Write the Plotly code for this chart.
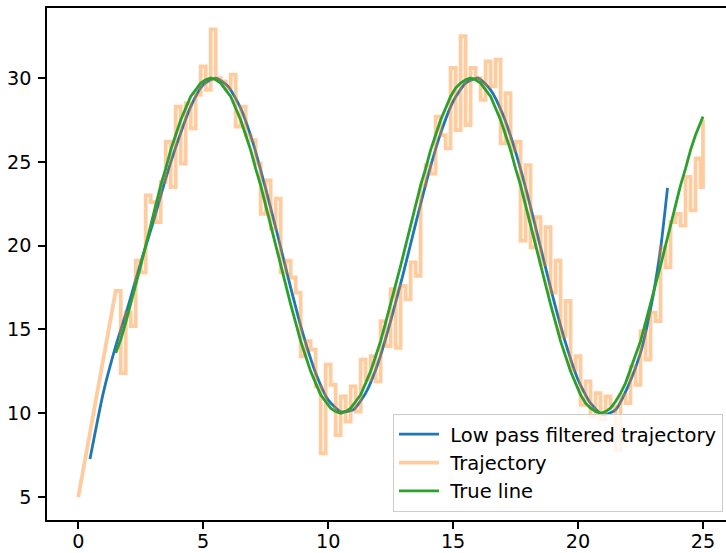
import numpy as np
import plotly.graph_objects as go

# ---------------- data ----------------
# sampling times of the measured trajectory (1.5 .. 24.9, step 0.2)
t_grid = np.round(np.arange(1.5, 24.95, 0.2), 1)

traj_start_x, traj_start_y = 0.0, 5.0
traj_end_x, traj_end_y = 25.0, 27.5
traj_y = [
    17.3, 12.4, 16.0, 15.2, 19.1, 18.4, 23.0, 22.6, 21.4, 23.8,
    26.2, 23.5, 28.3, 24.9, 28.5, 27.0, 29.0, 30.7, 29.3, 32.9,
    30.0, 29.8, 29.4, 30.2, 27.1, 28.3, 26.6, 26.3, 24.9, 21.9,
    23.9, 21.0, 22.8, 18.4, 19.1, 18.1, 17.2, 13.4, 14.3, 13.8,
    11.6, 7.6, 12.9, 11.7, 8.7, 11.0, 9.5, 11.6, 10.1, 13.2,
    12.0, 13.4, 11.9, 15.5, 14.0, 17.4, 13.9, 17.6, 16.8, 19.0,
    18.2, 23.6, 24.8, 24.3, 27.7, 26.6, 25.8, 30.6, 26.9, 32.5,
    27.2, 30.6, 30.0, 28.7, 31.0, 29.5, 31.1, 26.1, 29.1, 25.7,
    26.2, 20.3, 24.8, 19.9, 21.7, 18.9, 21.1, 17.2, 19.1, 14.6,
    16.7, 12.6, 13.4, 10.5, 11.9, 9.8, 11.2, 9.6, 11.0, 10.4,
    7.8, 11.1, 10.6, 12.8, 11.7, 14.9, 13.2, 16.0, 15.5, 19.9,
    18.7, 21.4, 21.9, 21.2, 24.1, 22.1, 25.2, 23.5,
]

true_y = [
    13.6, 14.4, 15.4, 16.5, 17.6, 18.8, 20.0, 21.2, 22.4, 23.6,
    24.6, 25.7, 26.6, 27.5, 28.2, 28.9, 29.3, 29.7, 29.9, 30.0,
    29.9, 29.7, 29.3, 28.9, 28.2, 27.5, 26.6, 25.7, 24.6, 23.6,
    22.4, 21.2, 20.0, 18.8, 17.6, 16.5, 15.4, 14.3, 13.4, 12.5,
    11.8, 11.1, 10.7, 10.3, 10.1, 10.0, 10.1, 10.3, 10.7, 11.1,
    11.8, 12.5, 13.4, 14.3, 15.4, 16.5, 17.6, 18.8, 20.0, 21.2,
    22.4, 23.6, 24.6, 25.7, 26.6, 27.5, 28.2, 28.9, 29.4, 29.7,
    29.9, 30.0, 29.9, 29.7, 29.3, 28.9, 28.2, 27.5, 26.6, 25.7,
    24.6, 23.6, 22.4, 21.2, 20.0, 18.8, 17.6, 16.5, 15.4, 14.3,
    13.4, 12.5, 11.8, 11.1, 10.6, 10.3, 10.1, 10.0, 10.1, 10.3,
    10.7, 11.2, 11.8, 12.6, 13.4, 14.3, 15.4, 16.5, 17.7, 18.8,
    20.0, 21.2, 22.4, 23.6, 24.6, 25.7, 26.6, 27.4,
]
true_end_x, true_end_y = 25.0, 27.7

lp_x = [0.47, 1.0, 1.5, 2.0, 2.5, 3.0, 3.5, 4.0, 4.5, 5.0, 5.5, 6.0, 6.5,
        7.0, 7.5, 8.0, 8.5, 9.0, 9.5, 10.0, 10.5, 11.0, 11.5, 12.0, 12.5,
        13.0, 13.5, 14.0, 14.5, 15.0, 15.5, 16.0, 16.5, 17.0, 17.5, 18.0,
        18.5, 19.0, 19.5, 20.0, 20.5, 21.0, 21.5, 22.0, 22.5, 22.9, 23.3,
        23.58]
lp_y = [7.27, 11.2, 14.0, 16.4, 19.0, 21.4, 24.0, 26.3, 28.3, 29.6, 30.0,
        29.5, 28.2, 26.1, 23.4, 20.5, 17.5, 14.7, 12.4, 10.8, 10.1, 10.2,
        11.2, 13.0, 15.5, 18.3, 21.3, 24.2, 26.7, 28.6, 29.7, 30.0, 29.3,
        27.8, 25.6, 22.9, 19.9, 16.9, 14.2, 12.0, 10.6, 9.9, 10.2, 11.6,
        13.6, 16.2, 19.8, 23.45]

series_names = ["Low pass filtered trajectory", "Trajectory", "True line"]
x_ticks = [0, 5, 10, 15, 20, 25]
y_ticks = [5, 10, 15, 20, 25, 30]

# ---------------- build trajectory polyline (held samples) ----------------
tx = [traj_start_x]
ty = [traj_start_y]
n = len(traj_y)
for i in range(n):
    x0 = float(t_grid[i])
    x1 = float(t_grid[i + 1]) if i + 1 < n else traj_end_x
    tx += [x0, x1]
    ty += [traj_y[i], traj_y[i]]
tx.append(traj_end_x)
ty.append(traj_end_y)

green_x = [float(v) for v in t_grid[:len(true_y)]] + [true_end_x]
green_y = list(true_y) + [true_end_y]

FONT = "DejaVu Sans"
FS = 19.2
PAD = "\u00a0"

fig = go.Figure()
fig.add_trace(go.Scatter(x=lp_x, y=lp_y, mode="lines", name=PAD + series_names[0],
                         line=dict(color="#1f77b4", width=2.8, shape="spline", smoothing=0.6),
                         legendgroup="a"))
fig.add_trace(go.Scatter(x=tx, y=ty, mode="lines", name=PAD + series_names[1],
                         line=dict(color="rgba(255,127,14,0.4)", width=3.8),
                         legendgroup="b"))
fig.add_trace(go.Scatter(x=green_x, y=green_y, mode="lines", name=PAD + series_names[2],
                         line=dict(color="#2ca02c", width=2.8),
                         legendgroup="c"))

fig.update_layout(
    width=726, height=553,
    margin=dict(l=47, r=0, t=8, b=33),
    paper_bgcolor="white", plot_bgcolor="white",
    font=dict(family=FONT, size=FS, color="black"),
    showlegend=True,
    legend=dict(x=0.5096, y=0.0156, xanchor="left", yanchor="bottom",
                bgcolor="rgba(255,255,255,0.8)", bordercolor="#cccccc", borderwidth=1,
                font=dict(family=FONT, size=19.5, color="black"),
                tracegroupgap=0, itemwidth=40),
    xaxis=dict(range=[-1.25, 25.92], showgrid=False, zeroline=False, automargin=False,
               showline=True, linecolor="black", linewidth=1.5, mirror=True,
               ticks="outside", ticklen=7, tickwidth=1.5, tickcolor="black",
               ticklabelstandoff=-4,
               tickvals=x_ticks, tickfont=dict(family=FONT, size=FS)),
    yaxis=dict(range=[3.63, 34.18], showgrid=False, zeroline=False, automargin=False,
               showline=True, linecolor="black", linewidth=1.5, mirror=False,
               ticks="outside", ticklen=7, tickwidth=1.5, tickcolor="black",
               ticklabelstandoff=3,
               tickvals=y_ticks, tickfont=dict(family=FONT, size=FS)),
)

fig.write_html("out.html", config={"displayModeBar": False})
